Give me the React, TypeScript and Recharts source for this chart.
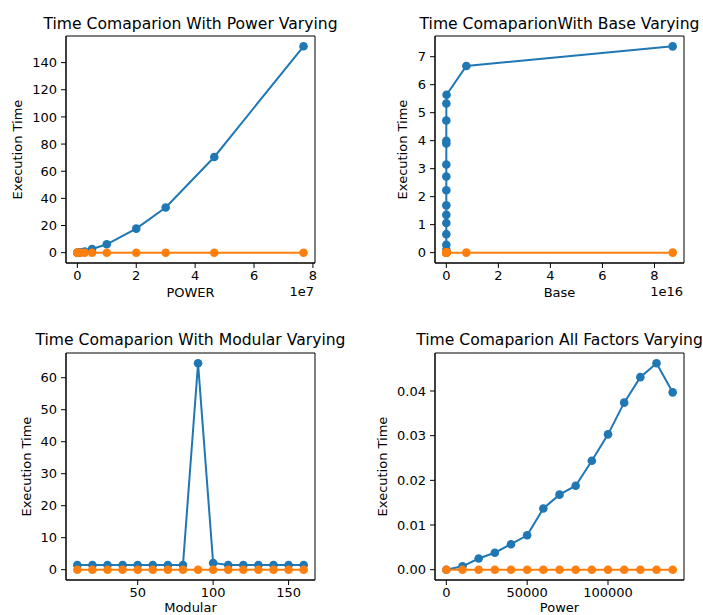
import React from 'react';
import { LineChart, Line, XAxis, YAxis, ReferenceArea } from 'recharts';

const BLUE = '#1f77b4';
const ORANGE = '#ff7f0e';
const FONT = '"DejaVu Sans", sans-serif';

// Power varying (exponent sizes up to ~7.7e7)
const powerX = [10, 1000, 100000, 1000000, 2500000, 5000000, 10000000, 20000000, 30000000, 46500000, 76800000];
const powerNaive = [0.0, 0.001, 0.02, 0.25, 0.9, 2.7, 6.2, 17.7, 33.3, 70.5, 152.0];
const powerFast = [0, 0, 0, 0, 0, 0, 0, 0, 0, 0, 0];
const powerXTicks = [0, 20000000, 40000000, 60000000, 80000000];
const powerYTicks = [0, 20, 40, 60, 80, 100, 120, 140];

// Base varying
const baseX = [1e0, 1e1, 1e2, 1e3, 1e4, 1e5, 1e6, 1e7, 1e8, 1e9, 1e10, 1e11, 1e12, 1e13, 1e14, 7.7e15, 8.7e16];
const baseNaive = [0.02, 0.1, 0.28, 0.66, 1.06, 1.35, 1.69, 2.23, 2.72, 3.15, 3.9, 4.0, 4.72, 5.33, 5.64, 6.67, 7.37];
const baseFast = [0, 0, 0, 0, 0, 0, 0, 0, 0, 0, 0, 0, 0, 0, 0, 0, 0];
const baseXTicks = [0, 2e16, 4e16, 6e16, 8e16];
const baseYTicks = [0, 1, 2, 3, 4, 5, 6, 7];

// Modular varying
const modX = [10, 20, 30, 40, 50, 60, 70, 80, 90, 100, 110, 120, 130, 140, 150, 160];
const modNaive = [1.45, 1.45, 1.45, 1.45, 1.45, 1.45, 1.45, 1.45, 64.5, 2.1, 1.45, 1.45, 1.45, 1.45, 1.45, 1.45];
const modFast = [0, 0, 0, 0, 0, 0, 0, 0, 0, 0, 0, 0, 0, 0, 0, 0];
const modXTicks = [50, 100, 150];
const modYTicks = [0, 10, 20, 30, 40, 50, 60];

// All factors varying
const allX = [0, 10000, 20000, 30000, 40000, 50000, 60000, 70000, 80000, 90000, 100000, 110000, 120000, 130000, 140000];
const allNaive = [0.0, 0.00075, 0.0025, 0.0038, 0.0057, 0.0077, 0.0137, 0.0168, 0.0188, 0.0244, 0.0303, 0.0374, 0.0431, 0.0462, 0.0397];
const allFast = [0, 0, 0, 0, 0, 0, 0, 0, 0, 0, 0, 0, 0, 0, 0];
const allXTicks = [0, 50000, 100000];
const allYTicks = [0, 0.01, 0.02, 0.03, 0.04];

const rows = (xs: number[], a: number[], b: number[]) =>
  xs.map((x, i) => ({ x, naive: a[i], fast: b[i] }));

const BOX_W = 249;
const BOX_H = 227;
const Y_AXIS_W = 60;
const X_AXIS_H = 40;
const M_TOP = 10;
const M_RIGHT = 10;

type PanelProps = {
  left: number;
  top: number;
  data: { x: number; naive: number; fast: number }[];
  xDomain: [number, number];
  yDomain: [number, number];
  xTicks: number[];
  yTicks: number[];
  xFmt: (v: number) => string;
  yFmt: (v: number) => string;
};

function Panel({ left, top, data, xDomain, yDomain, xTicks, yTicks, xFmt, yFmt }: PanelProps) {
  const tickStyle = { fill: '#000', fontSize: 13, fontFamily: FONT };
  return (
    <div style={{ position: 'absolute', left: left - Y_AXIS_W, top: top - M_TOP }}>
      <LineChart
        width={Y_AXIS_W + BOX_W + M_RIGHT}
        height={M_TOP + BOX_H + X_AXIS_H}
        data={data}
        margin={{ top: M_TOP, right: M_RIGHT, left: 0, bottom: 0 }}
      >
        <XAxis
          dataKey="x"
          type="number"
          domain={xDomain}
          ticks={xTicks}
          tickFormatter={xFmt}
          interval={0}
          allowDataOverflow
          height={X_AXIS_H}
          tickSize={5}
          tickMargin={3}
          stroke="#000"
          tick={tickStyle}
        />
        <YAxis
          type="number"
          domain={yDomain}
          ticks={yTicks}
          tickFormatter={yFmt}
          interval={0}
          allowDataOverflow
          width={Y_AXIS_W}
          tickSize={5}
          tickMargin={4}
          stroke="#000"
          tick={tickStyle}
        />
        <ReferenceArea
          x1={xDomain[0]}
          x2={xDomain[1]}
          y1={yDomain[0]}
          y2={yDomain[1]}
          fill="none"
          stroke="#000"
          strokeWidth={1}
          ifOverflow="visible"
        />
        <Line
          dataKey="naive"
          type="linear"
          stroke={BLUE}
          strokeWidth={2}
          dot={{ r: 4.3, fill: BLUE, stroke: BLUE, strokeWidth: 0 }}
          isAnimationActive={false}
        />
        <Line
          dataKey="fast"
          type="linear"
          stroke={ORANGE}
          strokeWidth={2}
          dot={{ r: 4.3, fill: ORANGE, stroke: ORANGE, strokeWidth: 0 }}
          isAnimationActive={false}
        />
      </LineChart>
    </div>
  );
}

const LEFT_COL = 66;
const RIGHT_COL = 435;
const TOP_ROW = 36;
const BOTTOM_ROW = 353;

const plain = (v: number) => String(v);

function Texts() {
  const cx1 = LEFT_COL + BOX_W / 2;
  const cx2 = RIGHT_COL + BOX_W / 2;
  const title = { fontSize: 15.6, fill: '#000', fontFamily: FONT, textAnchor: 'middle' as const };
  const label = { fontSize: 13, fill: '#000', fontFamily: FONT };
  const yLabel = (x: number, yc: number) => (
    <text {...label} textAnchor="middle" transform={`translate(${x},${yc}) rotate(-90)`}>
      Execution Time
    </text>
  );
  const topMid = TOP_ROW + BOX_H / 2;
  const botMid = BOTTOM_ROW + BOX_H / 2;
  return (
    <svg
      width={703}
      height={615}
      style={{ position: 'absolute', left: 0, top: 0, pointerEvents: 'none' }}
    >
      <text {...title} x={cx1} y={TOP_ROW - 7}>Time Comaparion With Power Varying</text>
      <text {...title} x={cx2} y={TOP_ROW - 7}>Time ComaparionWith Base Varying</text>
      <text {...title} x={cx1} y={BOTTOM_ROW - 8}>Time Comaparion With Modular Varying</text>
      <text {...title} x={cx2} y={BOTTOM_ROW - 8}>Time Comaparion All Factors Varying</text>

      <text {...label} textAnchor="middle" x={cx1} y={TOP_ROW + BOX_H + 34}>POWER</text>
      <text {...label} textAnchor="middle" x={cx2} y={TOP_ROW + BOX_H + 34}>Base</text>
      <text {...label} textAnchor="middle" x={cx1} y={BOTTOM_ROW + BOX_H + 32}>Modular</text>
      <text {...label} textAnchor="middle" x={cx2} y={BOTTOM_ROW + BOX_H + 32}>Power</text>

      <text {...label} textAnchor="end" x={LEFT_COL + BOX_W - 1} y={TOP_ROW + BOX_H + 33}>1e7</text>
      <text {...label} textAnchor="end" x={RIGHT_COL + BOX_W - 1} y={TOP_ROW + BOX_H + 33}>1e16</text>

      {yLabel(22, topMid)}
      {yLabel(407, topMid)}
      {yLabel(31, botMid)}
      {yLabel(387, botMid)}
    </svg>
  );
}

export default function App() {
  return (
    <div
      style={{
        position: 'absolute',
        left: 0,
        top: 0,
        width: 703,
        height: 615,
        background: '#fff',
        overflow: 'hidden',
        fontFamily: FONT,
      }}
    >
      <Panel
        left={LEFT_COL}
        top={TOP_ROW}
        data={rows(powerX, powerNaive, powerFast)}
        xDomain={[-3850000, 80700000]}
        yDomain={[-7.6, 159.6]}
        xTicks={powerXTicks}
        yTicks={powerYTicks}
        xFmt={(v) => String(v / 1e7)}
        yFmt={plain}
      />
      <Panel
        left={RIGHT_COL}
        top={TOP_ROW}
        data={rows(baseX, baseNaive, baseFast)}
        xDomain={[-4.35e15, 9.135e16]}
        yDomain={[-0.37, 7.74]}
        xTicks={baseXTicks}
        yTicks={baseYTicks}
        xFmt={(v) => String(v / 1e16)}
        yFmt={plain}
      />
      <Panel
        left={LEFT_COL}
        top={BOTTOM_ROW}
        data={rows(modX, modNaive, modFast)}
        xDomain={[2.5, 167.5]}
        yDomain={[-3.225, 67.725]}
        xTicks={modXTicks}
        yTicks={modYTicks}
        xFmt={plain}
        yFmt={plain}
      />
      <Panel
        left={RIGHT_COL}
        top={BOTTOM_ROW}
        data={rows(allX, allNaive, allFast)}
        xDomain={[-7000, 147000]}
        yDomain={[-0.00231, 0.04851]}
        xTicks={allXTicks}
        yTicks={allYTicks}
        xFmt={plain}
        yFmt={(v) => v.toFixed(2)}
      />
      <Texts />
    </div>
  );
}
